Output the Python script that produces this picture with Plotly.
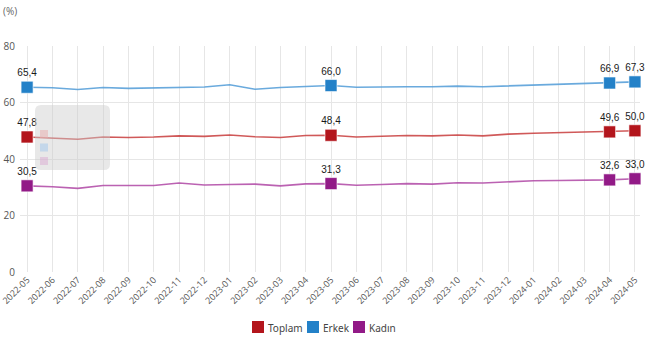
import plotly.graph_objects as go

months = ["2022-05","2022-06","2022-07","2022-08","2022-09","2022-10","2022-11","2022-12",
          "2023-01","2023-02","2023-03","2023-04","2023-05","2023-06","2023-07","2023-08",
          "2023-09","2023-10","2023-11","2023-12","2024-01","2024-02","2024-03","2024-04","2024-05"]
toplam = [47.8,47.5,47.0,47.8,47.6,47.8,48.2,48.0,48.5,47.9,47.6,48.3,48.4,47.8,48.1,48.3,
          48.2,48.5,48.2,48.8,49.1,49.3,49.5,49.6,50.0]
erkek = [65.4,65.2,64.6,65.3,65.0,65.1,65.3,65.5,66.3,64.7,65.3,65.7,66.0,65.4,65.6,65.6,
         65.6,65.8,65.6,65.9,66.0,66.5,66.7,66.9,67.3]
kadin = [30.5,30.2,29.6,30.6,30.6,30.6,31.5,30.8,31.0,31.1,30.5,31.2,31.3,30.7,31.0,31.3,
         31.1,31.6,31.5,32.0,32.3,32.4,32.5,32.6,33.0]
labeled = [0, 12, 23, 24]

series = [
    ("Toplam", toplam, "#B3151C", "rgba(200,60,60,0.85)"),
    ("Erkek", erkek, "#2381C8", "rgba(80,155,215,0.85)"),
    ("Kadın", kadin, "#921A87", "rgba(175,70,165,0.85)"),
]

W, H = 650, 337
L, R, T, B = 20, 10, 46, 65
PW, PH = W - L - R, H - T - B

def px(xp):
    return (xp - L) / PW

def py(yp):
    return (H - B - yp) / PH

x = list(range(len(months)))
fig = go.Figure()
for name, vals, mc, lc in series:
    fig.add_trace(go.Scatter(x=x, y=vals, mode="lines", line=dict(color=lc, width=1.6),
                             showlegend=False, hoverinfo="skip"))
    fig.add_trace(go.Scatter(
        x=[x[i] for i in labeled], y=[vals[i] for i in labeled],
        mode="markers+text",
        marker=dict(symbol="square", size=12, color=mc, line=dict(color="rgba(255,255,255,0.6)", width=1)),
        text=[f"{vals[i]:.1f}".replace(".", ",") for i in labeled],
        textposition="top center",
        textfont=dict(family="Liberation Sans", size=10, color="#1a1a1a"),
        showlegend=False, cliponaxis=False))

# faded tooltip box
x0, x1, y0, y1 = px(35), px(110), py(170), py(105)
rx, ry = 6 / PW, 6 / PH
fig.add_shape(type="path", xref="paper", yref="paper",
              path=(f"M {x0+rx} {y1} L {x1-rx} {y1} Q {x1} {y1} {x1} {y1-ry} L {x1} {y0+ry} "
                    f"Q {x1} {y0} {x1-rx} {y0} L {x0+rx} {y0} Q {x0} {y0} {x0} {y0+ry} "
                    f"L {x0} {y1-ry} Q {x0} {y1} {x0+rx} {y1} Z"),
              fillcolor="rgba(205,205,205,0.45)", line=dict(width=0), layer="above")
for i, c in enumerate(["rgba(232,175,175,0.55)", "rgba(165,200,235,0.55)", "rgba(218,175,212,0.55)"]):
    top = 130 + i * 13.5
    fig.add_shape(type="rect", xref="paper", yref="paper", x0=px(40), x1=px(48),
                  y0=py(top + 8), y1=py(top), fillcolor=c, line=dict(width=0), layer="above")

fig.add_annotation(text="(%)", xref="paper", yref="paper", x=px(1), y=py(2),
                   xanchor="left", yanchor="top", showarrow=False,
                   font=dict(family="Open Sans", size=10, color="#666666"))

# legend (square swatches + labels)
legend_items = [("Toplam", 252), ("Erkek", 307), ("Kadın", 353)]
for (name, xs), (_, _, mc, _) in zip(legend_items, series):
    fig.add_shape(type="rect", xref="paper", yref="paper", x0=px(xs), x1=px(xs + 12),
                  y0=py(333), y1=py(321), fillcolor=mc, line=dict(width=0))
    fig.add_annotation(text=name, xref="paper", yref="paper", x=px(xs + 14), y=py(327.5),
                       xanchor="left", yanchor="middle", showarrow=False,
                       font=dict(family="Noto Sans", size=10, color="#444444"))

fig.update_layout(
    width=W, height=H, margin=dict(l=L, r=R, t=T, b=B, autoexpand=False),
    paper_bgcolor="white", plot_bgcolor="white", showlegend=False,
    font=dict(family="Open Sans", size=10, color="#555555"),
    xaxis=dict(range=[-0.28, 24.2], tickmode="array", tickvals=x, ticktext=months,
               tickangle=-45, showgrid=True, gridcolor="#e6e6e6", zeroline=False, automargin=False,
               ticklabeloverflow="allow", showline=False,
               tickfont=dict(size=9, color="#555555"), ticks=""),
    yaxis=dict(range=[0, 80], tickvals=[0, 20, 40, 60, 80], showgrid=True, gridcolor="#e6e6e6",
               zeroline=False, automargin=False, tickfont=dict(size=10, color="#555555"),
               ticks="", ticklabelstandoff=4),
    hovermode=False,
)
fig.write_html("out.html")
